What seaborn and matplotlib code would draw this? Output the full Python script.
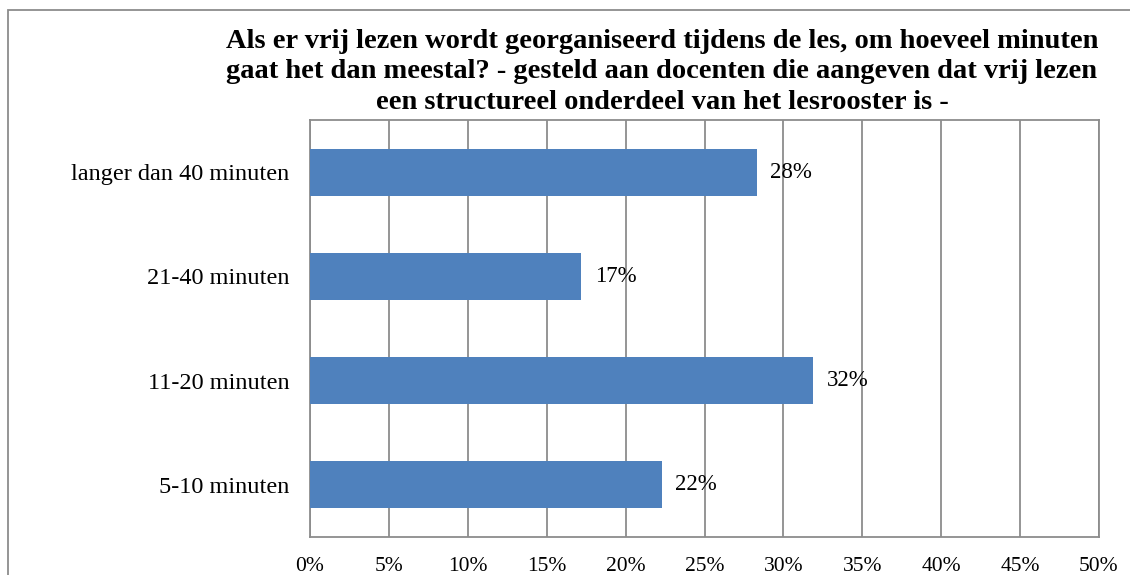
import pandas as pd
import seaborn as sns
import matplotlib.pyplot as plt
from matplotlib.patches import Rectangle

categories = ['langer dan 40 minuten', '21-40 minuten', '11-20 minuten', '5-10 minuten']
values = [28.3, 17.2, 31.9, 22.3]
labels = ['28%', '17%', '32%', '22%']
ticks = [0, 5, 10, 15, 20, 25, 30, 35, 40, 45, 50]

df = pd.DataFrame({'cat': categories, 'val': values})

sns.set_style('white')
plt.rcParams['font.family'] = ['Liberation Serif', 'DejaVu Serif']
plt.rcParams['text.color'] = 'black'
plt.rcParams['xtick.color'] = 'black'
plt.rcParams['ytick.color'] = 'black'

fig = plt.figure(figsize=(11.3, 5.75), dpi=100)
ax = fig.add_axes([310 / 1130, 1 - 537 / 575, 789 / 1130, 417 / 575])

sns.barplot(data=df, x='val', y='cat', order=categories, color='#4F81BD',
            width=0.45, saturation=1, linewidth=0, ax=ax, zorder=3)

ax.set_xlim(0, 50)
ax.set_xticks(ticks)
ax.set_xticklabels([f'{t}%' for t in ticks], fontsize=15.5)
ax.tick_params(axis='y', labelsize=17.5, length=0, pad=15)
ax.tick_params(axis='x', length=0, pad=14.5)
ax.set_xlabel('')
ax.set_ylabel('')
ax.grid(axis='x', color='#8c8c8c', linewidth=1.3, zorder=0)
for s in ax.spines.values():
    s.set_color('#8c8c8c')
    s.set_linewidth(1.3)

for i, (v, lab) in enumerate(zip(values, labels)):
    ax.text(v + 0.85, i, lab, va='center', ha='left', fontsize=16.5, zorder=4)

title = ('Als er vrij lezen wordt georganiseerd tijdens de les, om hoeveel minuten\n'
         'gaat het dan meestal? - gesteld aan docenten die aangeven dat vrij lezen\n'
         'een structureel onderdeel van het lesrooster is -')
fig.text(662 / 1130, 1 - 72 / 575, title, ha='center', va='center',
         fontsize=20.5, fontweight='bold', linespacing=1.28)

# outer chart border
fig.patches.append(Rectangle((8 / 1130, -0.05), 1.2, 1 - 10 / 575 + 0.05,
                             transform=fig.transFigure, fill=False,
                             edgecolor='#8c8c8c', linewidth=1.3))

plt.savefig('out.png', dpi=100)
